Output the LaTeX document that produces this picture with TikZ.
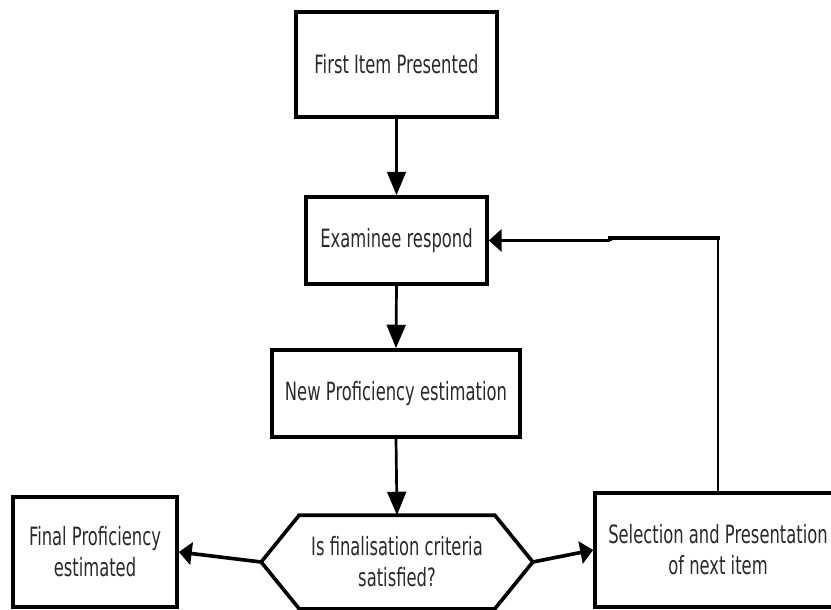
\documentclass[tikz,border=0pt]{standalone}
\usepackage{fontspec}
\setmainfont[FakeStretch=0.65]{DejaVu Sans}
\usetikzlibrary{arrows.meta}
\definecolor{txt}{HTML}{2A2A2A}
\tikzset{
  box/.style={draw=black, line width=3.1pt, fill=white, align=center,
    text=txt, font=\fontsize{21.5}{26.4}\selectfont, inner sep=0pt},
  vlink/.style={line width=2.3pt},
  hlink/.style={line width=3.1pt},
  vflow/.style={vlink, -{Triangle[length=20pt,width=16pt]}},
  hflow/.style={hlink, -{Triangle[length=11pt,width=19pt]}}
}
\begin{document}
\begin{tikzpicture}[x=0.03cm, y=-0.03cm]
  \useasboundingbox (0,0) rectangle (831,609);
  \clip (0,0) rectangle (831,609);
  \fill[white] (0,0) rectangle (831,609);

  % process boxes
  \node[box, minimum width=201*0.03cm, minimum height=105*0.03cm] (first) at (396.5,64.5) {First Item Presented};
  \node[box, minimum width=181*0.03cm, minimum height=87*0.03cm] (resp) at (396.5,240.5) {Examinee respond};
  \node[box, minimum width=248*0.03cm, minimum height=87*0.03cm] (est) at (396,393.5) {New Proficiency estimation};
  \node[box, minimum width=164*0.03cm, minimum height=110*0.03cm] (final) at (95,552) {Final Proficiency\\estimated};
  \node[box, minimum width=246*0.03cm, minimum height=114*0.03cm] (sel) at (718,550) {Selection and Presentation\\of next item};

  % decision hexagon
  \node[box, draw=none, fill=none, minimum width=268*0.03cm, minimum height=90*0.03cm] (crit) at (397,562) {};
  \draw[line width=3.1pt, fill=white, line join=miter]
    ([xshift=38*0.03cm]crit.north west) -- ([xshift=-38*0.03cm]crit.north east)
    -- (crit.east) -- ([xshift=-38*0.03cm]crit.south east)
    -- ([xshift=38*0.03cm]crit.south west) -- (crit.west) -- cycle;
  \node[box, draw=none, fill=none] at (crit) {Is finalisation criteria\\satisfied?};

  % connectors
  \draw[vflow] (first.south) -- (resp.north);
  \draw[vflow] (resp.south) -- (est.north);
  \draw[vflow] (est.south) -- (crit.north);
  \draw[hflow] (crit.west) -- (final.east);
  \draw[hflow] (crit.east) -- (sel.west);

  % feedback loop to the response step
  \coordinate (corner) at (718,238);
  \coordinate (jogtop) at (610,238);
  \coordinate (jogbot) at (610,240.5);
  \draw[vlink] (sel.north) -- ([yshift=-1.5pt]corner);
  \draw[hlink, line cap=rect] (corner) -- (jogtop);
  \draw[hlink] (jogtop) -- (jogbot);
  \draw[hflow] (jogbot) -- (resp.east);
\end{tikzpicture}
\end{document}
